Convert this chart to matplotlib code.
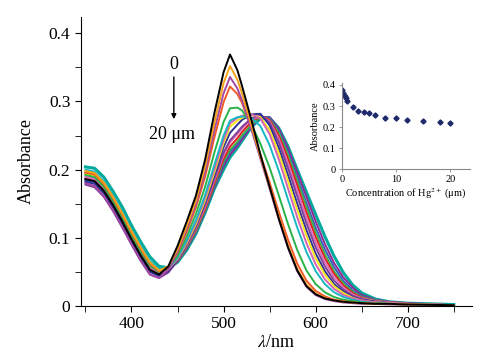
import matplotlib
matplotlib.use("Agg")
import matplotlib.pyplot as plt
from matplotlib.ticker import MultipleLocator

plt.rcParams["font.family"] = ["Liberation Serif", "DejaVu Serif"]
plt.rcParams["mathtext.fontset"] = "stix"

# Longueurs d'onde (nm) communes a tous les spectres
wavelengths = [350, 360, 370, 380, 390, 400, 410, 420, 430, 440, 450, 460, 470, 480,
               490, 500, 507, 515, 520, 530, 540, 550, 560, 570, 580, 590, 600, 610,
               620, 630, 640, 650, 665, 680, 700, 750]

# Spectres, de 0 a 20 um de Hg2+
spec_00 = [.186, .183, .169, .148, .124, .098, .074, .053, .046, .058, .088, .124, .162, .215,
           .283, .343, .369, .346, .323, .274, .222, .175, .128, .086, .052, .029, .017, .011,
           .008, .006, .005, .004, .003, .003, .002, .001]
spec_01 = [.198, .195, .181, .160, .136, .110, .086, .064, .052, .058, .083, .117, .155, .205,
           .269, .327, .352, .332, .312, .266, .219, .175, .130, .088, .054, .031, .018, .012,
           .008, .006, .005, .004, .003, .003, .002, .001]
spec_02 = [.180, .176, .161, .140, .116, .091, .067, .046, .041, .053, .080, .113, .150, .197,
           .258, .312, .336, .319, .302, .260, .216, .172, .127, .085, .051, .028, .016, .010,
           .007, .005, .004, .003, .003, .002, .002, .001]
spec_03 = [.196, .193, .179, .158, .134, .108, .084, .062, .051, .056, .078, .109, .145, .190,
           .247, .299, .322, .311, .298, .262, .222, .181, .138, .097, .062, .037, .022, .014,
           .009, .007, .005, .004, .003, .003, .002, .001]
spec_04 = [.192, .189, .175, .154, .130, .104, .080, .059, .050, .055, .074, .102, .135, .175,
           .225, .270, .290, .291, .287, .267, .238, .203, .162, .120, .082, .052, .032, .020,
           .013, .009, .007, .005, .004, .003, .002, .001]
spec_05 = [.200, .197, .183, .162, .138, .112, .088, .066, .054, .055, .071, .096, .126, .163,
           .207, .250, .272, .277, .278, .276, .264, .236, .198, .156, .115, .079, .051, .032,
           .020, .013, .009, .006, .004, .003, .002, .001]
spec_06 = [.188, .185, .171, .150, .126, .100, .076, .055, .047, .053, .070, .094, .123, .159,
           .201, .244, .268, .276, .279, .281, .275, .252, .215, .172, .130, .092, .061, .039,
           .025, .016, .011, .008, .005, .004, .003, .001]
spec_07 = [.193, .190, .176, .155, .131, .105, .081, .060, .050, .054, .069, .092, .120, .155,
           .196, .239, .263, .272, .276, .280, .277, .258, .224, .183, .141, .103, .070, .046,
           .029, .019, .012, .008, .005, .004, .003, .001]
spec_08 = [.182, .179, .165, .144, .120, .094, .070, .050, .044, .051, .068, .091, .118, .152,
           .192, .233, .254, .266, .273, .281, .282, .265, .232, .192, .150, .111, .077, .051,
           .032, .021, .013, .009, .006, .004, .003, .001]
spec_09 = [.178, .174, .160, .139, .115, .090, .066, .046, .041, .049, .066, .089, .116, .149,
           .187, .225, .243, .255, .263, .275, .280, .269, .240, .202, .161, .121, .086, .058,
           .037, .024, .015, .010, .006, .004, .003, .001]
spec_10 = [.190, .187, .173, .152, .128, .102, .078, .058, .050, .054, .067, .088, .114, .146,
           .184, .221, .240, .252, .260, .273, .279, .271, .245, .209, .169, .129, .093, .064,
           .042, .027, .017, .011, .007, .005, .003, .001]
spec_11 = [.196, .193, .179, .158, .134, .108, .084, .063, .053, .055, .066, .087, .112, .143,
           .180, .216, .234, .246, .255, .270, .279, .273, .250, .216, .177, .137, .101, .070,
           .047, .030, .019, .012, .007, .005, .003, .001]
spec_12 = [.194, .191, .177, .156, .132, .106, .083, .062, .053, .055, .065, .086, .110, .141,
           .178, .212, .229, .241, .250, .266, .277, .274, .254, .222, .184, .145, .108, .076,
           .051, .033, .021, .013, .008, .005, .003, .001]
spec_13 = [.184, .181, .167, .146, .122, .096, .072, .052, .046, .052, .065, .085, .109, .140,
           .176, .209, .226, .238, .247, .265, .278, .276, .257, .226, .189, .151, .115, .083,
           .057, .037, .023, .014, .008, .005, .003, .001]
spec_14 = [.186, .183, .169, .148, .124, .098, .074, .054, .047, .053, .065, .084, .108, .139,
           .174, .205, .222, .235, .244, .263, .277, .277, .260, .231, .196, .160, .124, .091,
           .063, .042, .027, .016, .009, .006, .004, .001]
spec_15 = [.204, .202, .189, .168, .145, .118, .094, .072, .058, .056, .064, .082, .106, .137,
           .172, .200, .218, .232, .242, .262, .275, .276, .261, .234, .200, .167, .134, .102,
           .073, .049, .031, .019, .010, .006, .004, .002]

spectra = [spec_00, spec_01, spec_02, spec_03, spec_04, spec_05, spec_06, spec_07,
           spec_08, spec_09, spec_10, spec_11, spec_12, spec_13, spec_14, spec_15]
colors = ["#000000", "#f7a11a", "#a349a4", "#f15a24", "#2ab34a", "#17b8c4",
          "#d462b5", "#f2e41a", "#2e3192", "#7e3f98", "#e070b8", "#e0201f",
          "#39b54a", "#3a5bbf", "#92278f", "#00a99d"]

# Encart : absorbance a 507 nm en fonction de la concentration
conc = [0, 0.25, 0.5, 0.75, 1, 2, 3, 4, 5, 6, 8, 10, 12, 15, 18, 20]
abs_507 = [0.378, 0.360, 0.348, 0.337, 0.324, 0.296, 0.274, 0.270, 0.266, 0.255,
           0.243, 0.242, 0.234, 0.229, 0.226, 0.221]

fig = plt.figure(figsize=(4.96, 3.62), dpi=100)
ax = fig.add_axes([0.163, 0.155, 0.789, 0.798])

# on trace le plus concentre d'abord pour garder le noir au-dessus
for spec, col in reversed(list(zip(spectra, colors))):
    lw = 2.2 if col == "#00a99d" else 1.4
    ax.plot(wavelengths, spec, color=col, lw=lw)

ax.set_xlim(345, 770)
ax.set_ylim(0, 0.424)
ax.xaxis.set_minor_locator(MultipleLocator(50))
ax.yaxis.set_minor_locator(MultipleLocator(0.05))
ax.set_yticks([0, 0.1, 0.2, 0.3, 0.4])
ax.set_yticklabels(["0", "0.1", "0.2", "0.3", "0.4"])
ax.set_xticks([400, 500, 600, 700])
ax.tick_params(which="both", direction="out", labelsize=12.5, length=4)
ax.spines["top"].set_visible(False)
ax.spines["right"].set_visible(False)
ax.set_xlabel(r"$\lambda$/nm", fontsize=13, labelpad=1)
ax.set_ylabel("Absorbance", fontsize=13, labelpad=10)

# fleche 0 -> 20 um
ax.annotate("", xy=(446, 0.270), xytext=(446, 0.340),
            arrowprops=dict(arrowstyle="-|>", color="black", lw=1.0, mutation_scale=7))
ax.text(446, 0.342, "0", ha="center", va="bottom", fontsize=13)
ax.text(444, 0.264, "20 μm", ha="center", va="top", fontsize=13)

# encart
ins = fig.add_axes([0.6895, 0.533, 0.258, 0.238])
ins.plot(conc, abs_507, "D", color="#1f2a6b", ms=2.6, mec="#1f2a6b")
ins.set_xlim(0, 23.6)
ins.set_ylim(0, 0.41)
ins.set_xticks([0, 10, 20])
ins.set_yticks([0, 0.1, 0.2, 0.3, 0.4])
ins.set_yticklabels(["0", "0.1", "0.2", "0.3", "0.4"])
ins.tick_params(labelsize=7.5, length=2.5, width=0.6, color="#888888", pad=2)
for s in ["top", "right"]:
    ins.spines[s].set_visible(False)
for s in ["left", "bottom"]:
    ins.spines[s].set_color("#888888")
    ins.spines[s].set_linewidth(0.8)
ins.patch.set_alpha(0)
ins.set_xlabel("Concentration of Hg$^{2+}$ (μm)", fontsize=7.5, labelpad=2)
ins.set_ylabel("Absorbance", fontsize=7.5, labelpad=2)

fig.savefig("out.png", dpi=100)
